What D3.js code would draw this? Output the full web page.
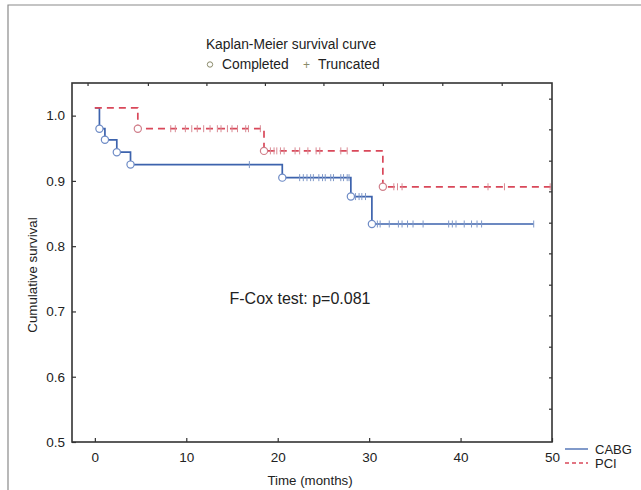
<!DOCTYPE html>
<html>
<head>
<meta charset="utf-8">
<script src="https://cdn.jsdelivr.net/npm/d3@7"></script>
<style>
  body { margin: 0; background: #fff; }
  svg { display: block; font-family: "Liberation Sans", Arial, sans-serif; }
</style>
</head>
<body>
<svg width="641" height="490"></svg>
<script>
// step levels (time of event, survival after event)
const cabgStart = 1.012;
const cabgEvents = [
  { t: 0.5, s: 0.980 },
  { t: 1.1, s: 0.963 },
  { t: 2.4, s: 0.944 },
  { t: 3.9, s: 0.925 },
  { t: 20.5, s: 0.905 },
  { t: 28.0, s: 0.876 },
  { t: 30.3, s: 0.834 }
];
const cabgEnd = 48.0;
const cabgCensored = [
  { s: 0.925, t: [16.9] },
  { s: 0.905, t: [22.4, 22.8, 23.2, 23.6, 23.9, 24.5, 24.9, 25.2, 25.8, 26.1, 26.9, 27.2, 27.6, 27.8] },
  { s: 0.876, t: [28.5, 28.9, 29.2, 29.6] },
  { s: 0.834, t: [30.9, 31.2, 32.2, 33.2, 33.6, 34.2, 34.8, 35.9, 38.7, 39.1, 39.5, 40.4, 41.2, 41.8, 42.3, 48.0] }
];

const pciStart = 1.012;
const pciEvents = [
  { t: 4.7, s: 0.980 },
  { t: 18.5, s: 0.946 },
  { t: 31.5, s: 0.891 }
];
const pciEnd = 50;
const pciCensored = [
  { s: 0.980, t: [8.3, 8.8, 9.9, 10.6, 11.2, 11.9, 12.6, 13.4, 13.8, 14.5, 15.0, 15.6, 16.5, 16.8, 18.1] },
  { s: 0.946, t: [19.2, 19.6, 19.9, 20.3, 20.7, 21.9, 22.4, 23.3, 24.2, 24.6, 26.9, 27.6] },
  { s: 0.891, t: [32.7, 33.1, 33.6, 43.0, 44.8, 49.8] }
];

const xTicks = [0, 10, 20, 30, 40, 50];
const yTicks = [0.5, 0.6, 0.7, 0.8, 0.9, 1.0];
const topTicks = [-0.8, 5.8, 12.2, 18.6, 25.0, 31.5, 38.0, 44.5];
const rightTicks = [1.026, 0.979, 0.931, 0.884, 0.836, 0.789, 0.741, 0.694, 0.646, 0.599, 0.551];

const svg = d3.select("svg");
const margin = { top: 83, right: 89, bottom: 48, left: 72 };
const width = +svg.attr("width");
const height = +svg.attr("height");
const innerWidth = width - margin.left - margin.right;
const innerHeight = height - margin.top - margin.bottom;

const blue = "#3d63ad";
const red = "#d9485a";
const textColor = "#222";

// outer frame of the figure
svg.append("path")
  .attr("d", "M8,490 V5 H641")
  .attr("fill", "none")
  .attr("stroke", "#8a8a8a")
  .attr("stroke-width", 1.2);

const xScale = d3.scaleLinear().domain([-2.5, 50]).range([0, innerWidth]);
const yScale = d3.scaleLinear().domain([0.5, 1.05]).range([innerHeight, 0]);

const g = svg.append("g")
  .attr("transform", `translate(${margin.left}, ${margin.top})`);

// axes
g.append("g")
  .attr("class", "axis")
  .attr("transform", `translate(0, ${innerHeight})`)
  .call(d3.axisBottom(xScale).tickValues(xTicks).tickSize(-4).tickPadding(10).tickFormat(d3.format("d")));

g.append("g")
  .attr("class", "axis")
  .call(d3.axisLeft(yScale).tickValues(yTicks).tickSize(-4).tickPadding(7).tickFormat(d3.format(".1f")));

g.append("g")
  .attr("class", "axis minor")
  .call(d3.axisTop(xScale).tickValues(topTicks).tickSize(-3));

g.append("g")
  .attr("class", "axis minor")
  .attr("transform", `translate(${innerWidth}, 0)`)
  .call(d3.axisRight(yScale).tickValues(rightTicks).tickSize(-3));

// top and right axes carry marks only
g.selectAll(".axis.minor text").remove();
g.selectAll(".axis .domain").remove();
g.selectAll(".axis line").attr("stroke", "#333").attr("stroke-width", 1.2);
g.selectAll(".axis text").attr("fill", textColor).style("font-size", "13.5px").style("font-family", "Liberation Sans, Arial, sans-serif");

// plot frame
g.append("rect")
  .attr("width", innerWidth)
  .attr("height", innerHeight)
  .attr("fill", "none")
  .attr("stroke", "#333")
  .attr("stroke-width", 1.6);

// step path builder
const stepPoints = (start, events, end) => {
  const pts = [[0, start]];
  let level = start;
  events.forEach((e) => {
    pts.push([e.t, level]);
    pts.push([e.t, e.s]);
    level = e.s;
  });
  pts.push([end, level]);
  return pts;
};

const line = d3.line()
  .x((d) => xScale(d[0]))
  .y((d) => yScale(d[1]));

const series = [
  { key: "CABG", start: cabgStart, events: cabgEvents, end: cabgEnd, censored: cabgCensored, color: blue, tick: "#7f98c8", circle: "#6f8cc6", dash: null },
  { key: "PCI", start: pciStart, events: pciEvents, end: pciEnd, censored: pciCensored, color: red, tick: "#d98a94", circle: "#d07f8b", dash: "7,5" }
];

series.forEach((sr) => {
  g.append("path")
    .attr("d", line(stepPoints(sr.start, sr.events, sr.end)))
    .attr("fill", "none")
    .attr("stroke", sr.color)
    .attr("stroke-width", 1.7)
    .attr("stroke-dasharray", sr.dash);

  // truncated (censored) marks
  sr.censored.forEach((grp) => {
    g.selectAll(null)
      .data(grp.t)
      .enter()
      .append("line")
      .attr("x1", (d) => xScale(d))
      .attr("x2", (d) => xScale(d))
      .attr("y1", yScale(grp.s) - 3.5)
      .attr("y2", yScale(grp.s) + 3.5)
      .attr("stroke", sr.tick)
      .attr("stroke-width", 1);
  });

  // completed marks
  g.selectAll(null)
    .data(sr.events)
    .enter()
    .append("circle")
    .attr("cx", (d) => xScale(d.t))
    .attr("cy", (d) => yScale(d.s))
    .attr("r", 3.6)
    .attr("fill", "#fff")
    .attr("stroke", sr.circle)
    .attr("stroke-width", 1.2);
});

// title and marker legend
svg.append("text")
  .attr("x", 291)
  .attr("y", 49)
  .attr("text-anchor", "middle")
  .style("font-size", "13.8px")
  .attr("fill", textColor)
  .text("Kaplan-Meier survival curve");

const topLegend = svg.append("g").attr("transform", "translate(0, 69)");
topLegend.append("circle")
  .attr("cx", 210).attr("cy", -4.5).attr("r", 2.7)
  .attr("fill", "none").attr("stroke", "#8a8a6a").attr("stroke-width", 1);
topLegend.append("text").attr("x", 222).attr("y", 0)
  .style("font-size", "13.8px").attr("fill", textColor).text("Completed");
topLegend.append("text").attr("x", 303).attr("y", 0)
  .style("font-size", "12px").attr("fill", "#8a8a6a").text("+");
topLegend.append("text").attr("x", 318).attr("y", 0)
  .style("font-size", "13.8px").attr("fill", textColor).text("Truncated");

// test annotation
svg.append("text")
  .attr("x", 300)
  .attr("y", 304)
  .attr("text-anchor", "middle")
  .style("font-size", "16px")
  .attr("fill", textColor)
  .text("F-Cox test: p=0.081");

// axis labels
svg.append("text")
  .attr("x", 310)
  .attr("y", 485)
  .attr("text-anchor", "middle")
  .style("font-size", "13.3px")
  .attr("fill", textColor)
  .text("Time (months)");

svg.append("text")
  .attr("transform", "translate(37, 275) rotate(-90)")
  .attr("text-anchor", "middle")
  .style("font-size", "13.3px")
  .attr("fill", textColor)
  .text("Cumulative survival");

// series legend
const legend = svg.selectAll("g.legend")
  .data(series)
  .enter()
  .append("g")
  .attr("class", "legend")
  .attr("transform", (d, i) => `translate(565, ${449 + i * 14})`);

legend.append("line")
  .attr("x1", 0).attr("x2", 23)
  .attr("stroke", (d) => d.color)
  .attr("stroke-width", 1.3)
  .attr("stroke-dasharray", (d) => (d.dash ? "4,3" : null));

legend.append("text")
  .attr("x", 30)
  .attr("y", 4.5)
  .style("font-size", "13px")
  .attr("fill", textColor)
  .text((d) => d.key);
</script>
</body>
</html>
